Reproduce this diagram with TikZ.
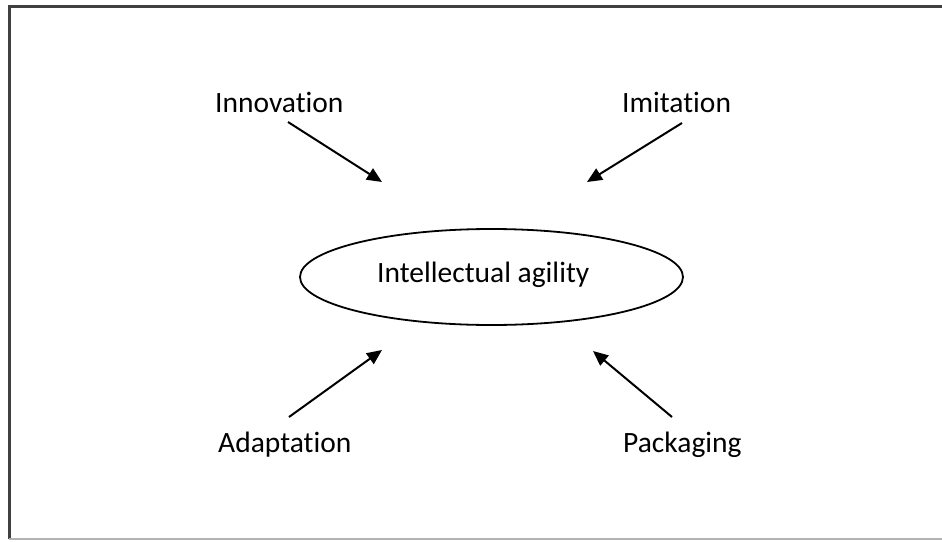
\documentclass[tikz,border=0pt]{standalone}
\usepackage{fontspec}
\setmainfont{Carlito}[Ligatures=NoCommon]
\usetikzlibrary{arrows.meta,shapes.geometric}
\begin{document}
\begin{tikzpicture}[x=1pt,y=-1pt,
  lbl/.style={anchor=base west,inner sep=0pt,font=\fontsize{29.5}{34}\selectfont},
  arr/.style={line width=2pt,-{Triangle[length=15pt,width=13pt]}},
  framecol/.style={draw=black!75,line width=3pt}]
\useasboundingbox (0,0) rectangle (942,541);
% frame
\draw[framecol] (945,6) -- (9,6) -- (9,539);
\draw[draw=black!30,line width=2pt] (9,539) -- (945,539);
% ellipse
\node[ellipse,draw,line width=1.8pt,minimum width=383pt,minimum height=96pt,inner sep=0pt] (core) at (491.5,277) {};
\node[lbl] (ia) at (377,282) {Intellectual agility};
% labels
\node[lbl] (inno) at (215,112) {Innovation};
\node[lbl] (imit) at (622,112) {Imitation};
\node[lbl] (adap) at (218,452) {Adaptation};
\node[lbl] (pack) at (623,452) {Packaging};
% arrow ends
\coordinate (t1) at (288,122); \coordinate (h1) at (382,182);
\coordinate (t2) at (682,123); \coordinate (h2) at (587,182);
\coordinate (t3) at (289,417); \coordinate (h3) at (382,350);
\coordinate (t4) at (672,417); \coordinate (h4) at (593,351);
\draw[arr] (t1) -- (h1);
\draw[arr] (t2) -- (h2);
\draw[arr] (t3) -- (h3);
\draw[arr] (t4) -- (h4);
\end{tikzpicture}
\end{document}
